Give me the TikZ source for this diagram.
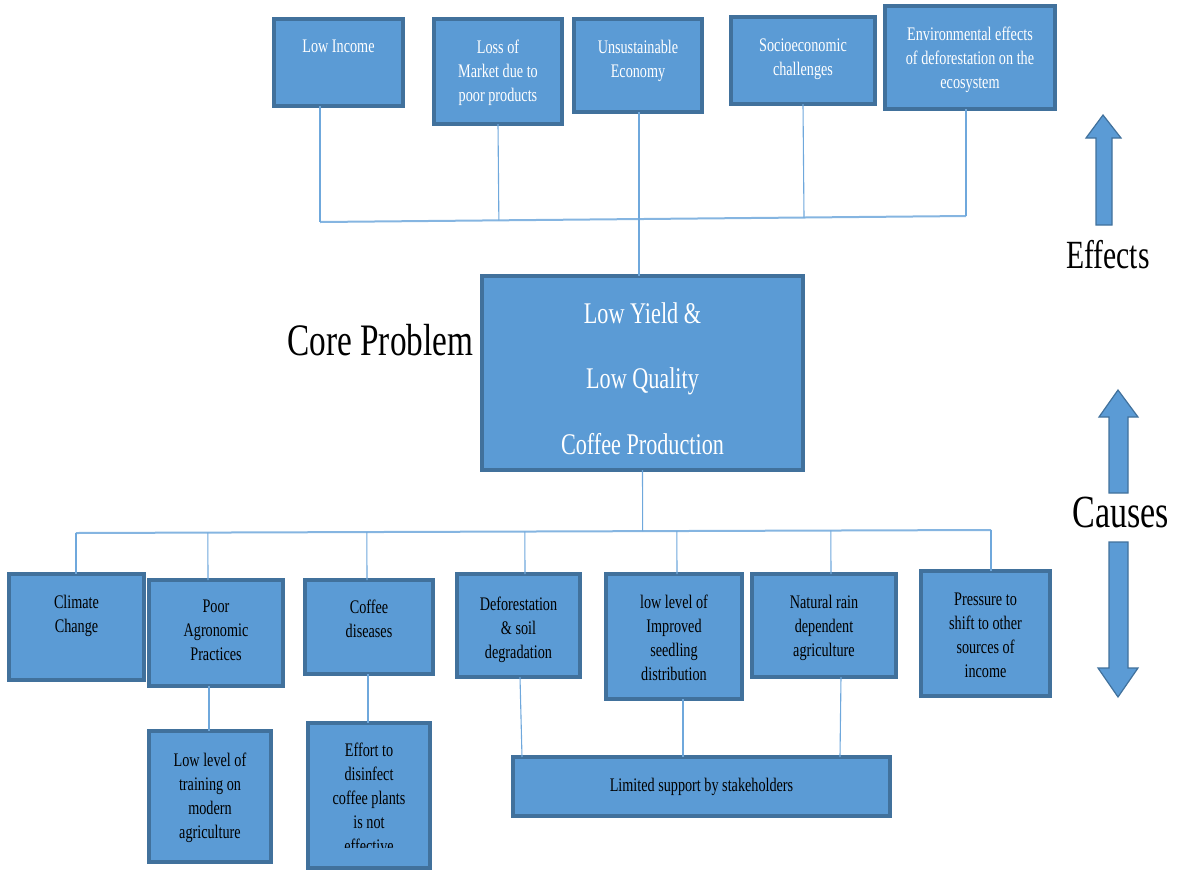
\documentclass[tikz,border=0pt]{standalone}
\usepackage{fontspec}
\newfontfamily\nf{Liberation Serif}[FakeStretch=0.74]
\usetikzlibrary{calc}
\definecolor{bfill}{HTML}{5B9BD5}
\definecolor{bline}{HTML}{41719C}
\definecolor{cline}{HTML}{6FA8DC}
\tikzset{
  pbox/.style={draw=bline, fill=bfill, line width=1.6pt, inner sep=0pt, outer sep=0pt, rectangle},
  wtxt/.style={text=white, font=\nf\fontsize{9.6}{12}\selectfont, align=center, inner sep=0pt, anchor=north},
  btxt/.style={text=black, font=\nf\fontsize{9.6}{12}\selectfont, align=center, inner sep=0pt, anchor=north},
  ctxt/.style={text=white, font=\nf\fontsize{15}{32.75}\selectfont, align=center, inner sep=0pt, anchor=north},
  bigtxt/.style={text=black, inner sep=0pt},
  conn/.style={draw=cline, line width=0.55pt},
  bus/.style={draw=cline!85, line width=1pt},
  barrow/.style={draw=bline, fill=bfill, line width=0.6pt, line join=miter},
}
% name x1 y1 x2 y2 textstyle texttop text
\newcommand\pbx[8]{%
  \node[pbox, anchor=north west, minimum width={(#4-#2)*0.5pt}, minimum height={(#5-#3)*0.5pt}] (#1) at (#2,#3) {};
  \node[#6] (#1t) at ({(#2+#4)/2},#7) {#8};
}
\begin{document}
\begin{tikzpicture}[x=0.5pt,y=-0.5pt]
\useasboundingbox (0,0) rectangle (1180,869);
\clip (0,0) rectangle (1180,869);

% ---------- effects (top) ----------
\pbx{lowinc}{274}{19}{403}{106}{wtxt}{40}{Low Income}
\pbx{loss}{434}{19}{562}{124}{wtxt}{40}{Loss of\\Market due to\\poor products}
\pbx{unsus}{574}{19}{702}{112}{wtxt}{40}{Unsustainable\\Economy}
\pbx{socio}{731}{17}{875}{104}{wtxt}{38}{Socioeconomic\\challenges}
\pbx{env}{885}{6}{1055}{109}{wtxt}{27}{Environmental effects\\of deforestation on the\\ecosystem}

% ---------- core ----------
\pbx{core}{482}{276}{803}{470}{ctxt}{302}{Low Yield \&\\Low Quality\\Coffee Production}
\node[bigtxt, anchor=base west, font=\nf\fontsize{22.5}{27}\selectfont] (coreprob) at (287,355) {Core Problem};

% ---------- causes ----------
\pbx{climate}{9}{574}{144}{680}{btxt}{595}{Climate\\Change}
\pbx{poor}{149}{580}{283}{686}{btxt}{600}{Poor\\Agronomic\\Practices}
\pbx{coffee}{305}{580}{433}{674}{btxt}{600}{Coffee\\diseases}
\pbx{defor}{457}{574}{580}{677}{btxt}{597}{Deforestation\\\& soil\\degradation}
\pbx{lowlev}{606}{574}{742}{699}{btxt}{595}{low level of\\Improved\\seedling\\distribution}
\pbx{natural}{752}{574}{896}{677}{btxt}{595}{Natural rain\\dependent\\agriculture}
\pbx{pressure}{921}{571}{1050}{696}{btxt}{593}{Pressure to\\shift to other\\sources of\\income}
\pbx{training}{149}{731}{271}{862}{btxt}{753}{Low level of\\training on\\modern\\agriculture}
\node[pbox, anchor=north west, minimum width={122*0.5pt}, minimum height={145*0.5pt}] (effort) at (308,723) {};
\begin{scope}
  \clip (308,723) rectangle (430,847);
  \node[btxt] (effortt) at (369,743) {Effort to\\disinfect\\coffee plants\\is not\\effective};
\end{scope}
\pbx{limited}{513}{757}{890}{816}{btxt}{778}{Limited support by stakeholders}

% ---------- connectors: effects ----------
\coordinate (tl) at (320,222);
\coordinate (tr) at (966,216);
\draw[bus] (tl) -- (tr);
\draw[conn] (lowinc.south -| tl) -- (tl);
\draw[conn] (loss.south) -- ($(tl)!(loss.south)!(tr)$);
\draw[conn] (socio.south) -- ($(tl)!(socio.south)!(tr)$);
\draw[conn] (env.south -| tr) -- (tr);
\coordinate (ux) at (639,0);
\draw[conn] (unsus.south -| ux) -- (core.north -| ux);

% ---------- connectors: causes ----------
\coordinate (bl) at (76,533);
\coordinate (br) at (991,530);
\draw[bus] (bl) -- (br);
\draw[conn] (core.south) -- ($(bl)!(core.south)!(br)$);
\draw[conn] (climate.north -| bl) -- (bl);
\coordinate (px) at (208,0);
\draw[conn] (poor.north -| px) -- ($(bl)!(poor.north -| px)!(br)$);
\coordinate (cx) at (367,0);
\draw[conn] (coffee.north -| cx) -- ($(bl)!(coffee.north -| cx)!(br)$);
\coordinate (dx) at (525,0);
\draw[conn] (defor.north -| dx) -- ($(bl)!(defor.north -| dx)!(br)$);
\coordinate (lx) at (677,0);
\draw[conn] (lowlev.north -| lx) -- ($(bl)!(lowlev.north -| lx)!(br)$);
\coordinate (nx) at (831,0);
\draw[conn] (natural.north -| nx) -- ($(bl)!(natural.north -| nx)!(br)$);
\draw[conn] (pressure.north -| br) -- (br);

\coordinate (tx) at (209,0);
\draw[conn] (poor.south -| tx) -- (training.north -| tx);
\coordinate (ex) at (368,0);
\draw[conn] (coffee.south -| ex) -- (effort.north -| ex);
\coordinate (d1) at (520,677);
\coordinate (d2) at (522,757);
\draw[conn] (d1) -- (d2);
\coordinate (l1) at (683,0);
\draw[conn] (lowlev.south -| l1) -- (limited.north -| l1);
\coordinate (n1) at (841,677);
\coordinate (n2) at (840,757);
\draw[conn] (n1) -- (n2);

% ---------- block arrows and labels ----------
\draw[barrow] (1103,115) -- (1121,138) -- (1112,138) -- (1112,225) -- (1096,225) -- (1096,138) -- (1086,138) -- cycle;
\node[bigtxt, anchor=base, font=\nf\fontsize{20}{24}\selectfont] (effects) at (1108,268) {Effects};

\draw[barrow] (1118,390) -- (1138,417) -- (1128,417) -- (1128,493) -- (1109,493) -- (1109,417) -- (1099,417) -- cycle;
\node[bigtxt, anchor=base, font=\nf\fontsize{23}{27}\selectfont] (causes) at (1121,527) {Causes};
\draw[barrow] (1109,542) -- (1128,542) -- (1128,668) -- (1138,668) -- (1118,697) -- (1098,668) -- (1109,668) -- cycle;
\end{tikzpicture}
\end{document}
